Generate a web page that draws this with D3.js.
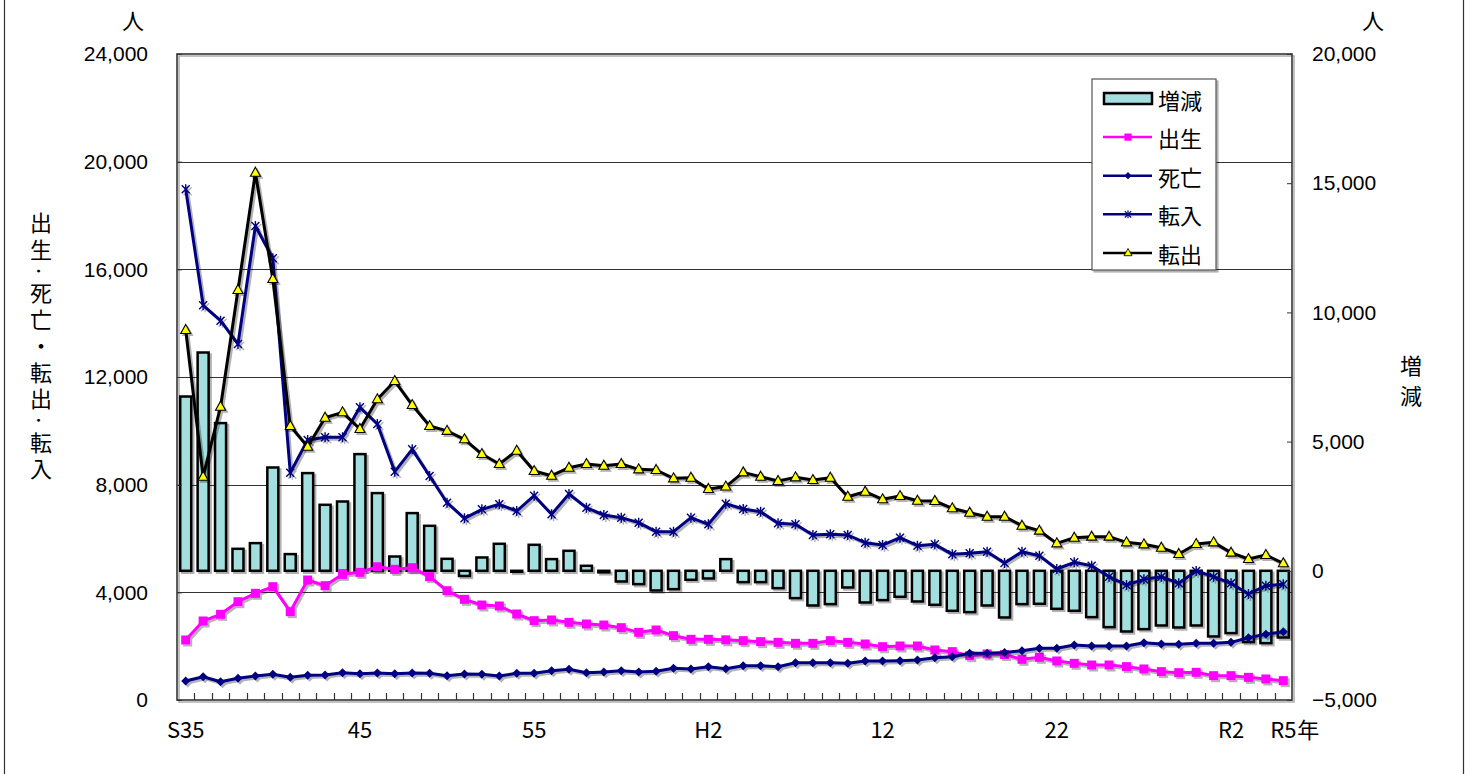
<!DOCTYPE html>
<html>
<head>
<meta charset="utf-8">
<script src="https://cdn.jsdelivr.net/npm/d3@7"></script>
<style>
  body { margin: 0; background: #fff; }
  text { fill: #000; }
  .num { font-family: "Liberation Sans", Arial, sans-serif; font-size: 21px; }
  .jp { font-family: "Noto Sans CJK JP", sans-serif; }
</style>
</head>
<body>
<div id="chart"></div>
<script>
// categories: fiscal years S35 (1960) .. R5 (2023)
var categories = ["S35","S36","S37","S38","S39","S40","S41","S42","S43","S44",
    "S45","S46","S47","S48","S49","S50","S51","S52","S53","S54",
    "S55","S56","S57","S58","S59","S60","S61","S62","S63","H1",
    "H2","H3","H4","H5","H6","H7","H8","H9","H10","H11",
    "H12","H13","H14","H15","H16","H17","H18","H19","H20","H21",
    "H22","H23","H24","H25","H26","H27","H28","H29","H30","R1",
    "R2","R3","R4","R5"];

// labels shown under the x axis
var xLabels = { "S35": "S35", "S45": "45", "S55": "55", "H2": "H2", "H12": "12", "H22": "22", "R2": "R2", "R5": "R5" };

// 増減 (right axis)
var change = [6745, 8448, 5716, 851, 1071, 3998, 646, 3781, 2554, 2682,
    4516, 3007, 553, 2233, 1741, 464, -200, 516, 1045, -40,
    1006, 452, 774, 194, -60, -413, -516, -761, -710, -348,
    -297, 452, -439, -439, -671, -1058, -1342, -1290, -645, -1226,
    -1135, -1006, -1187, -1316, -1548, -1600, -1342, -1806, -1290, -1277,
    -1471, -1548, -1793, -2180, -2348, -2258, -2116, -2193, -2116, -2541,
    -2412, -2760, -2799, -2580];

// 出生
var births = [2229, 2935, 3183, 3652, 3963, 4210, 3281, 4458, 4247, 4668,
    4742, 4950, 4854, 4916, 4582, 4060, 3740, 3529, 3492, 3195,
    2947, 2972, 2885, 2823, 2786, 2687, 2514, 2600, 2390, 2254,
    2254, 2235, 2204, 2167, 2142, 2105, 2105, 2204, 2142, 2080,
    1981, 2006, 2006, 1858, 1796, 1647, 1709, 1690, 1511, 1585,
    1449, 1362, 1300, 1300, 1238, 1152, 1053, 1015, 1028, 903,
    903, 842, 780, 718];

// 死亡
var deaths = [706, 866, 680, 806, 892, 955, 843, 918, 929, 1014,
    977, 1003, 977, 1003, 992, 900, 970, 955, 892, 992,
    992, 1090, 1139, 1015, 1040, 1090, 1040, 1065, 1176, 1152,
    1238, 1160, 1275, 1275, 1238, 1387, 1387, 1387, 1362, 1449,
    1449, 1461, 1486, 1573, 1610, 1734, 1734, 1765, 1833, 1920,
    1920, 2043, 2006, 2006, 2006, 2130, 2080, 2068, 2105, 2105,
    2142, 2315, 2440, 2539];

// 転入
var movedIn = [18973, 14663, 14091, 13225, 17609, 16409, 8444, 9659, 9759, 9759,
    10873, 10253, 8482, 9313, 8322, 7330, 6750, 7084, 7270, 7021,
    7591, 6898, 7653, 7145, 6873, 6774, 6588, 6254, 6254, 6774,
    6527, 7295, 7096, 6996, 6564, 6527, 6130, 6155, 6130, 5844,
    5758, 6030, 5733, 5783, 5412, 5449, 5510, 5090, 5510, 5362,
    4866, 5114, 4990, 4581, 4272, 4483, 4581, 4334, 4792, 4581,
    4334, 3938, 4247, 4297];

// 転出
var movedOut = [13746, 8296, 10897, 15232, 19590, 15640, 10179, 9410, 10488, 10688,
    10068, 11171, 11851, 10959, 10179, 10000, 9685, 9138, 8767, 9261,
    8507, 8333, 8630, 8767, 8704, 8767, 8569, 8545, 8235, 8259,
    7839, 7930, 8457, 8296, 8136, 8272, 8173, 8259, 7553, 7739,
    7456, 7578, 7404, 7393, 7122, 6959, 6810, 6810, 6476, 6291,
    5820, 6030, 6068, 6068, 5857, 5783, 5658, 5424, 5795, 5857,
    5474, 5238, 5387, 5078];

var leftTicks = [0, 4000, 8000, 12000, 16000, 20000, 24000];
var rightTicks = [-5000, 0, 5000, 10000, 15000, 20000];

// set the dimensions and margins of the graph
var margin = { top: 54, right: 181, bottom: 74, left: 177 },
    width = 1473 - margin.left - margin.right,
    height = 774 - margin.top - margin.bottom;

var root = d3.select("#chart")
    .append("svg")
    .attr("width", 1473)
    .attr("height", 774);

var defs = root.append("defs");
defs.append("filter").attr("id", "shadow")
    .attr("x", "-20%").attr("y", "-20%").attr("width", "140%").attr("height", "140%")
    .append("feDropShadow")
    .attr("dx", 2).attr("dy", 2).attr("stdDeviation", 0.6)
    .attr("flood-color", "#000").attr("flood-opacity", 0.3);

// outer frame (sides only)
root.append("line").attr("x1", 4.5).attr("x2", 4.5).attr("y1", 0).attr("y2", 774)
    .attr("stroke", "#333").attr("stroke-width", 1.2);
root.append("line").attr("x1", 1463.5).attr("x2", 1463.5).attr("y1", 0).attr("y2", 774)
    .attr("stroke", "#333").attr("stroke-width", 1.2);

var svg = root.append("g")
    .attr("transform", "translate(" + margin.left + "," + margin.top + ")");

// scales
var x = d3.scaleBand().domain(categories).range([0, width]).padding(0);
var barW = 11;
var cx = function (c) { return x(c) + x.bandwidth() / 2; };

var yL = d3.scaleLinear().domain([0, 24000]).range([height, 0]);
var yR = d3.scaleLinear().domain([-5000, 20000]).range([height, 0]);

// gridlines
svg.append("g")
    .selectAll("line")
    .data(leftTicks.slice(1, -1))
    .enter().append("line")
    .attr("x1", 0).attr("x2", width)
    .attr("y1", function (d) { return Math.round(yL(d)) + 0.5; })
    .attr("y2", function (d) { return Math.round(yL(d)) + 0.5; })
    .attr("stroke", "#333").attr("stroke-width", 1.2);

// plot frame
svg.append("rect")
    .attr("x", 0).attr("y", 0).attr("width", width).attr("height", height)
    .attr("fill", "none").attr("stroke", "#333").attr("stroke-width", 1.6)
    .attr("filter", "url(#shadow)");

// x boundary ticks (inside, pointing up)
svg.append("g")
    .selectAll("line")
    .data(categories.slice(1))
    .enter().append("line")
    .attr("x1", function (d) { return Math.round(x(d)) + 0.5; })
    .attr("x2", function (d) { return Math.round(x(d)) + 0.5; })
    .attr("y1", height).attr("y2", height - 7)
    .attr("stroke", "#333").attr("stroke-width", 1.2);

// bars 増減
var data = categories.map(function (c, i) {
    return { cat: c, change: change[i], births: births[i], deaths: deaths[i], movedIn: movedIn[i], movedOut: movedOut[i] };
});

svg.append("g")
    .attr("filter", "url(#shadow)")
    .selectAll(".bar")
    .data(data)
    .enter().append("rect")
    .attr("class", "bar")
    .attr("x", function (d) { return cx(d.cat) - barW / 2; })
    .attr("y", function (d) { return yR(Math.max(0, d.change)); })
    .attr("width", barW)
    .attr("height", function (d) { return Math.max(1, Math.abs(yR(d.change) - yR(0))); })
    .attr("fill", "#a4dfdf")
    .attr("stroke", "#000")
    .attr("stroke-width", 2.5);

// line series
var series = [
    { key: "births", color: "#ff00ff", marker: "square" },
    { key: "deaths", color: "#000080", marker: "diamond" },
    { key: "movedIn", color: "#000080", marker: "star" },
    { key: "movedOut", color: "#000000", marker: "triangle" }
];

var drawMarker = function (g, type, color) {
    if (type === "square") {
        g.append("rect").attr("x", -4.5).attr("y", -4.5).attr("width", 9).attr("height", 9)
            .attr("fill", color);
    } else if (type === "diamond") {
        g.append("path").attr("d", "M0,-4.5L4.5,0L0,4.5L-4.5,0Z").attr("fill", color);
    } else if (type === "star") {
        g.append("path").attr("d", "M-4,-4L4,4M-4,4L4,-4M0,-5V5")
            .attr("stroke", color).attr("stroke-width", 1.4).attr("fill", "none");
    } else if (type === "triangle") {
        g.append("path").attr("d", "M0,-5.5L5,3.5L-5,3.5Z")
            .attr("fill", "#ffff00").attr("stroke", "#000").attr("stroke-width", 1.1);
    }
};

series.forEach(function (s) {
    var line = d3.line()
        .x(function (d) { return cx(d.cat); })
        .y(function (d) { return yL(d[s.key]); });

    var g = svg.append("g").attr("filter", "url(#shadow)");
    g.append("path")
        .datum(data)
        .attr("fill", "none")
        .attr("stroke", s.color)
        .attr("stroke-width", 3)
        .attr("stroke-linejoin", "round")
        .attr("d", line);

    g.selectAll(".pt")
        .data(data)
        .enter().append("g")
        .attr("transform", function (d) { return "translate(" + cx(d.cat) + "," + yL(d[s.key]) + ")"; })
        .each(function () { drawMarker(d3.select(this), s.marker, s.color); });
});

// left axis
var axL = svg.append("g")
    .call(d3.axisLeft(yL).tickValues(leftTicks).tickFormat(d3.format(",")).tickSize(-5).tickSizeOuter(0).tickPadding(29));
axL.select(".domain").remove();
axL.selectAll("line").attr("stroke", "#333");
axL.selectAll("text").attr("class", "num").attr("font-size", null).attr("font-family", null);

// right axis
var axR = svg.append("g")
    .attr("transform", "translate(" + width + ",0)")
    .call(d3.axisRight(yR).tickValues(rightTicks).tickFormat(d3.format(",")).tickSize(-5).tickSizeOuter(0).tickPadding(20));
axR.select(".domain").remove();
axR.selectAll("line").attr("stroke", "#333");
axR.selectAll("text").attr("class", "num").attr("font-size", null).attr("font-family", null);

// x axis labels
var axX = svg.append("g")
    .attr("transform", "translate(0," + height + ")")
    .call(d3.axisBottom(x).tickValues(Object.keys(xLabels)).tickFormat(function (d) { return xLabels[d]; }).tickSize(0).tickPadding(22));
axX.select(".domain").remove();
axX.selectAll("text").attr("class", "jp").attr("font-size", 22).attr("font-family", null);

svg.append("text")
    .attr("class", "jp")
    .attr("x", cx("R5") + 14)
    .attr("y", height + 22)
    .attr("dy", "0.71em")
    .attr("font-size", 22)
    .text("年");

// unit labels
root.append("text").attr("class", "jp").attr("x", 133).attr("y", 19)
    .attr("text-anchor", "middle").attr("dominant-baseline", "central").attr("font-size", 22).text("人");
root.append("text").attr("class", "jp").attr("x", 1373).attr("y", 19)
    .attr("text-anchor", "middle").attr("dominant-baseline", "central").attr("font-size", 22).text("人");

// left axis title (vertical writing)
root.append("text")
    .attr("class", "jp")
    .attr("x", 41)
    .attr("y", 212)
    .attr("writing-mode", "vertical-rl")
    .style("letter-spacing", "4.5px")
    .attr("font-size", 22)
    .text("出生·死亡・転出·転入");

// right axis title
root.append("text")
    .attr("class", "jp")
    .attr("x", 1411)
    .attr("y", 355)
    .attr("writing-mode", "vertical-rl")
    .style("letter-spacing", "8px")
    .attr("font-size", 22)
    .text("増減");

// legend
var legendItems = [
    { name: "増減", type: "bar" },
    { name: "出生", type: "square", color: "#ff00ff" },
    { name: "死亡", type: "diamond", color: "#000080" },
    { name: "転入", type: "star", color: "#000080" },
    { name: "転出", type: "triangle", color: "#000000" }
];
var legend = root.append("g").attr("transform", "translate(1092,79)");
legend.append("rect")
    .attr("x", 0).attr("y", 0).attr("width", 124).attr("height", 191)
    .attr("fill", "#fff").attr("stroke", "#555").attr("stroke-width", 1.2)
    .attr("filter", "url(#shadow)");

var li = legend.selectAll(".li")
    .data(legendItems)
    .enter().append("g")
    .attr("transform", function (d, i) { return "translate(0," + (19.5 + i * 38.6) + ")"; });

li.each(function (d) {
    var g = d3.select(this);
    if (d.type === "bar") {
        g.append("rect").attr("x", 12).attr("y", -5.5).attr("width", 48).attr("height", 11)
            .attr("fill", "#a4dfdf").attr("stroke", "#000").attr("stroke-width", 2.5);
    } else {
        g.append("line").attr("x1", 11).attr("x2", 60).attr("y1", 0).attr("y2", 0)
            .attr("stroke", d.color).attr("stroke-width", 2.5);
        var m = g.append("g").attr("transform", "translate(36,0) scale(0.8)");
        drawMarker(m, d.type, d.color);
    }
    g.append("text")
        .attr("class", "jp")
        .attr("x", 66)
        .attr("y", 0)
        .attr("dominant-baseline", "central")
        .attr("font-size", 22)
        .text(d.name);
});
</script>
</body>
</html>
